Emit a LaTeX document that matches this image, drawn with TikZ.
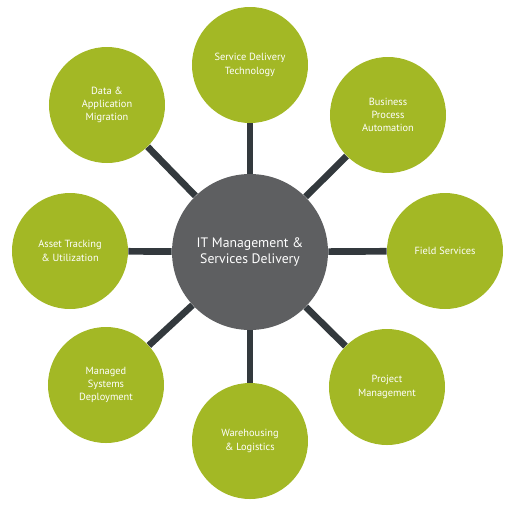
\documentclass[tikz,border=0pt]{standalone}
\usepackage{fontspec}
\setmainfont{PT Sans}
\usepackage {tikz}
\usetikzlibrary {positioning}
\definecolor {leafgreen}{HTML}{A3B825}
\definecolor {hubgray}{HTML}{5E5F61}
\definecolor {spokegray}{HTML}{33393D}

\begin{document}
\begin{tikzpicture}
  \tikzstyle{hub}=[circle, fill=hubgray, text=white, minimum width=3.12cm,
align=center, font=\fontsize{7.8}{9.4}\selectfont, inner sep=0pt]
  \tikzstyle{leaf}=[circle, fill=leafgreen, text=white, minimum width=2.32cm,
align=center, font=\fontsize{5.9}{7.6}\selectfont, inner sep=0pt]
  \tikzstyle{spoke}=[line width=3.8pt, spokegray]
  \useasboundingbox (-5,-5.2) rectangle (5.36,5.04);

  \node[hub] (IT) at (0,0) {IT Management \&\\Services Delivery};
  \node[leaf] (L_sdt) at (0,3.74) {Service Delivery\\Technology};
  \node[leaf] (L_bpa) at (2.76,2.74) {Business\\Process\\Automation};
  \node[leaf] (L_fs) at (3.9,0.02) {Field Services};
  \node[leaf] (L_pm) at (2.74,-2.7) {Project\\Management};
  \node[leaf] (L_wl) at (0,-3.78) {Warehousing\\\& Logistics};
  \node[leaf] (L_msd) at (-2.88,-2.66) {Managed\\Systems\\Deployment};
  \node[leaf] (L_atu) at (-3.6,0.02) {Asset Tracking\\\& Utilization};
  \node[leaf] (L_dam) at (-2.86,2.94) {Data \&\\Application\\Migration};

  \draw[spoke] (IT) -- (L_sdt);
  \draw[spoke] (IT) -- (L_bpa);
  \draw[spoke] (IT) -- (L_fs);
  \draw[spoke] (IT) -- (L_pm);
  \draw[spoke] (IT) -- (L_wl);
  \draw[spoke] (IT) -- (L_msd);
  \draw[spoke] (IT) -- (L_atu);
  \draw[spoke] (IT) -- (L_dam);
\end{tikzpicture}
\end{document}
